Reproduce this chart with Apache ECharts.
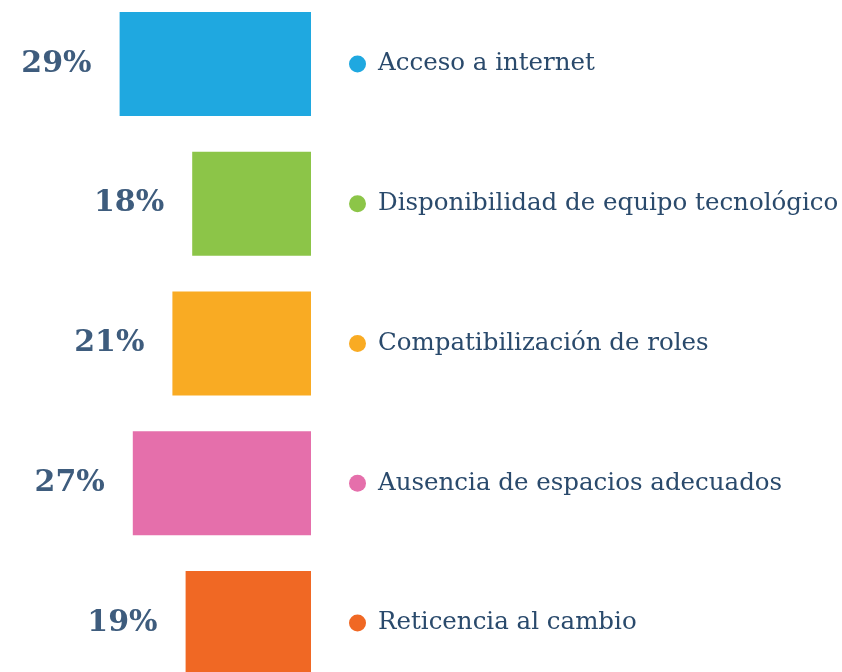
<!DOCTYPE html>
<html>
<head>
<meta charset="utf-8">
<script src="https://cdn.jsdelivr.net/npm/echarts@6/dist/echarts.min.js"></script>
<style>
  html, body { margin: 0; padding: 0; background: #fff; }
  #chart { width: 842px; height: 672px; }
</style>
</head>
<body>
<div id="chart"></div>
<script>
  // data
  const categories = [
    'Acceso a internet',
    'Disponibilidad de equipo tecnológico',
    'Compatibilización de roles',
    'Ausencia de espacios adecuados',
    'Reticencia al cambio'
  ];
  const values = [29, 18, 21, 27, 19];
  const colors = ['#1fa8e0', '#8cc548', '#f9ab23', '#e56fab', '#f06824'];

  const FONT = '"DejaVu Serif", serif';

  // one rich style per dot colour
  let rich = {
    name: { fontFamily: FONT, fontSize: 24.5, color: '#2a4a6c', padding: [0, 0, 0, 12] }
  };
  colors.forEach((c, i) => {
    rich['d' + i] = { width: 17, height: 17, borderRadius: 8.5, backgroundColor: c };
  });

  const chart = echarts.init(document.getElementById('chart'), null, { renderer: 'canvas' });

  chart.setOption({
    animation: false,
    grid: { left: 47, right: 531, top: -6, height: 699, containLabel: false, outerBoundsMode: 'none' },
    xAxis: {
      type: 'value',
      inverse: true,
      min: 0,
      max: 40,
      show: false
    },
    yAxis: {
      type: 'category',
      inverse: true,
      position: 'right',
      data: categories,
      axisLine: { show: false },
      axisTick: { show: false },
      axisLabel: {
        margin: 38,
        formatter: (v, i) => '{d' + i + '|}{name|' + v + '}',
        rich: rich
      }
    },
    series: [{
      type: 'bar',
      barCategoryGap: '25.6%',
      data: values.map((v, i) => ({ value: v, itemStyle: { color: colors[i] } })),
      label: {
        show: true,
        position: 'left',
        distance: 28,
        formatter: '{c}%',
        fontFamily: FONT,
        fontWeight: 'bold',
        fontSize: 30,
        color: '#3e5c7d'
      }
    }]
  });
</script>
</body>
</html>
